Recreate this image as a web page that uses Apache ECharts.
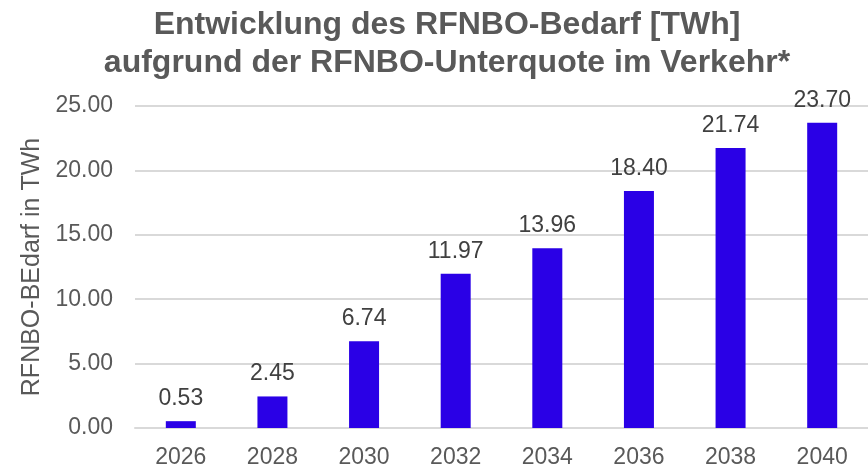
<!DOCTYPE html>
<html>
<head>
<meta charset="utf-8">
<script src="https://cdn.jsdelivr.net/npm/echarts@6/dist/echarts.min.js"></script>
<style>
html,body{margin:0;padding:0;background:#fff;}
#chart{width:868px;height:469px;}
</style>
</head>
<body>
<div id="chart"></div>
<script>
const titleLines = ["Entwicklung des RFNBO-Bedarf [TWh]", "aufgrund der RFNBO-Unterquote im Verkehr*"];
const categories = ["2026", "2028", "2030", "2032", "2034", "2036", "2038", "2040"];
const values = [0.53, 2.45, 6.74, 11.97, 13.96, 18.40, 21.74, 23.70];
const yAxisName = "RFNBO-BEdarf in TWh";

const FONT = "'Liberation Sans', Arial, sans-serif";
const chart = echarts.init(document.getElementById('chart'), null, {renderer: 'canvas'});
chart.setOption({
  backgroundColor: '#ffffff',
  animation: false,
  title: {
    text: titleLines.join('\n'),
    left: 442,
    textAlign: 'center',
    top: 1,
    textStyle: {fontFamily: FONT, fontSize: 32, fontWeight: 'bold', color: '#595959', lineHeight: 38}
  },
  grid: {left: 135, top: 106, width: 741, height: 323, containLabel: false},
  xAxis: {
    type: 'category',
    data: categories,
    axisLine: {show: true, lineStyle: {color: '#d9d9d9', width: 2}},
    axisTick: {show: false},
    axisLabel: {fontFamily: FONT, fontSize: 23, color: '#595959', margin: 18}
  },
  yAxis: {
    type: 'value',
    min: 0, max: 25, interval: 5,
    name: yAxisName,
    nameLocation: 'middle',
    nameGap: 90,
    nameTextStyle: {fontFamily: FONT, fontSize: 25, color: '#595959'},
    axisLine: {show: false},
    axisTick: {show: false},
    splitLine: {lineStyle: {color: '#d9d9d9', width: 2}},
    axisLabel: {fontFamily: FONT, fontSize: 23, color: '#595959', margin: 22,
      formatter: v => v.toFixed(2)}
  },
  series: [{
    type: 'bar',
    data: values,
    barWidth: 30,
    itemStyle: {color: '#2a00e6'},
    label: {show: true, position: 'top', distance: 11, fontFamily: FONT, fontSize: 23, color: '#404040',
      formatter: p => p.value.toFixed(2)}
  }]
});
</script>
</body>
</html>
